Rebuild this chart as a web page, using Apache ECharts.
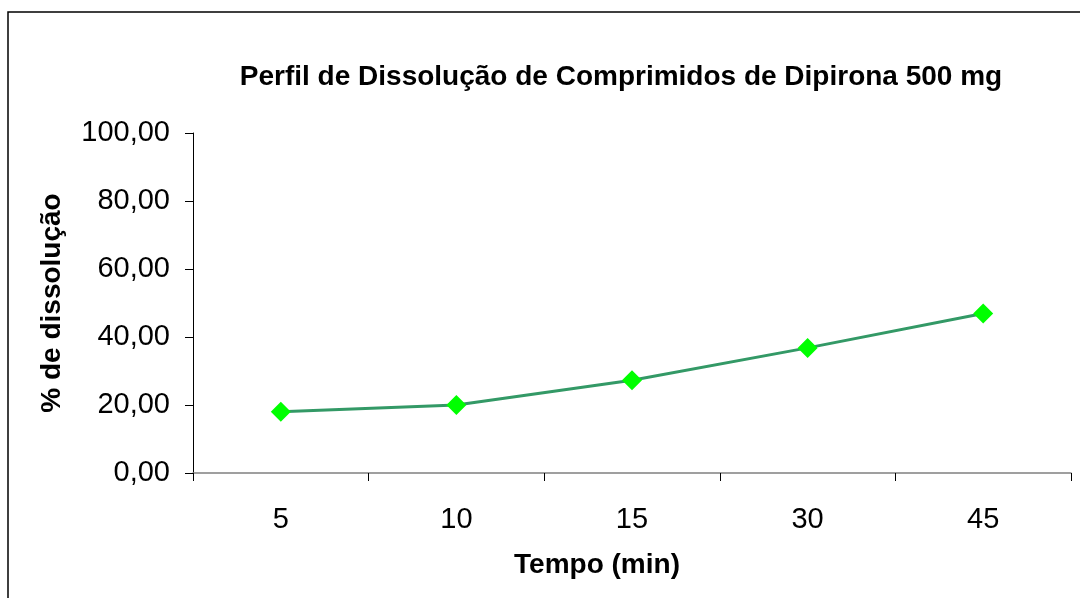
<!DOCTYPE html>
<html><head><meta charset="utf-8">
<script src="https://cdn.jsdelivr.net/npm/echarts@6/dist/echarts.min.js"></script>
<style>html,body{margin:0;padding:0;background:#fff;}#c{width:1080px;height:598px;}</style>
</head><body><div id="c"></div>
<script>
const categories = ['5', '10', '15', '30', '45'];
const dissolution = [18.0, 20.0, 27.3, 36.8, 46.9];
const yTicks = [0, 20, 40, 60, 80, 100];

const chart = echarts.init(document.getElementById('c'), null, {renderer: 'canvas'});
const F = '"Liberation Sans", Arial, sans-serif';
chart.setOption({
  animation: false,
  backgroundColor: '#fff',
  graphic: [{
    type: 'rect', shape: {x: 8, y: 12, width: 1200, height: 700},
    style: {fill: 'none', stroke: '#000', lineWidth: 1.5}, silent: true
  }],
  title: {
    text: 'Perfil de Dissolução de Comprimidos de Dipirona 500 mg',
    left: 616, top: 58, textAlign: 'center',
    textStyle: {fontFamily: F, fontSize: 28, fontWeight: 'bold', color: '#000'}
  },
  grid: {left: 193, top: 133, right: 9, bottom: 125, containLabel: false},
  xAxis: {
    type: 'category', data: categories, boundaryGap: true,
    name: 'Tempo (min)', nameLocation: 'middle', nameGap: 78,
    nameTextStyle: {fontFamily: F, fontSize: 28, fontWeight: 'bold', color: '#000', padding: [0, 70, 0, 0]},
    axisLine: {lineStyle: {color: '#808080', width: 1.5}},
    axisTick: {show: true, inside: false, length: 8, lineStyle: {color: '#000', width: 1}},
    axisLabel: {fontFamily: F, fontSize: 29, color: '#000', margin: 32}
  },
  yAxis: {
    type: 'value', min: yTicks[0], max: yTicks[yTicks.length - 1], interval: 20,
    name: '% de dissolução', nameLocation: 'middle', nameGap: 127, nameRotate: 90,
    nameTextStyle: {fontFamily: F, fontSize: 28, fontWeight: 'bold', color: '#000'},
    axisLine: {show: true, lineStyle: {color: '#000', width: 1}},
    axisTick: {show: true, length: 8, lineStyle: {color: '#000', width: 1}},
    splitLine: {show: false},
    axisLabel: {fontFamily: F, fontSize: 29, color: '#000', margin: 23,
      formatter: v => v.toFixed(2).replace('.', ',')}
  },
  series: [{
    type: 'line', data: dissolution,
    symbol: 'diamond', symbolSize: 20,
    lineStyle: {color: '#339966', width: 3},
    itemStyle: {color: '#00ff00', borderWidth: 0}
  }]
});
</script></body></html>
